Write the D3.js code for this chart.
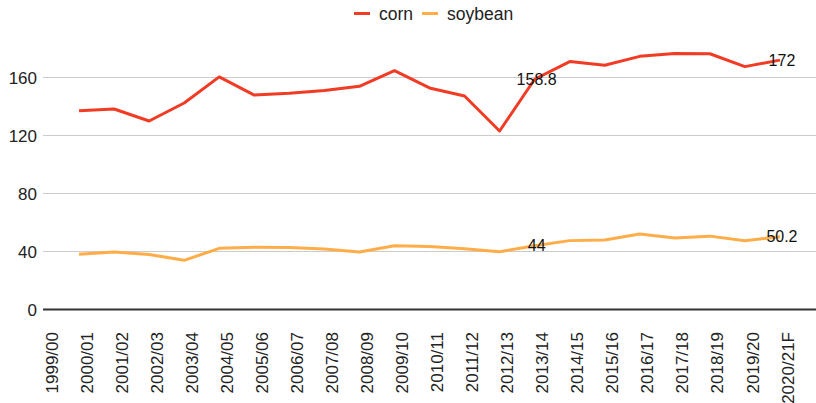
<!DOCTYPE html>
<html><head><meta charset="utf-8">
<script src="https://cdn.jsdelivr.net/npm/d3@7"></script>
<style>body{margin:0;background:#fff}svg{display:block;font-family:"Liberation Sans",Arial,sans-serif}</style>
</head><body><svg id="c" width="816" height="403"></svg>
<script>
const categories = ["1999/00","2000/01","2001/02","2002/03","2003/04","2004/05","2005/06","2006/07","2007/08","2008/09","2009/10","2010/11","2011/12","2012/13","2013/14","2014/15","2015/16","2016/17","2017/18","2018/19","2019/20","2020/21F"];
const corn = [null,137.1,138.3,130.0,142.4,160.4,147.9,149.1,151.1,153.9,164.7,152.8,147.2,123.1,158.8,171.0,168.4,174.6,176.6,176.4,167.5,172];
const soybean = [null,38.1,39.6,38.0,33.9,42.2,43.0,42.7,41.8,39.7,44.0,43.5,41.9,39.8,44,47.5,48.0,52.0,49.3,50.6,47.4,50.2];
const yTicks = [0,40,80,120,160];
const labelsShown = [{series:"corn", idx:14},{series:"corn", idx:21},{series:"soybean", idx:14},{series:"soybean", idx:21}];
const seriesNames = ["corn","soybean"];
const colors = {corn:"#f23b25", soybean:"#ffad48"};

const svg = d3.select("#c");
const x = d3.scaleLinear().domain([0, categories.length]).range([44, 815]);
const y = d3.scaleLinear().domain([0,160]).range([309.5, 77.5]);

// grid
svg.append("g").selectAll("line").data(yTicks.filter(d=>d!==0)).join("line")
  .attr("x1",43).attr("x2",816).attr("y1",d=>y(d)).attr("y2",d=>y(d))
  .attr("stroke","#cccccc").attr("stroke-width",1);
// y labels
svg.append("g").selectAll("text").data(yTicks).join("text")
  .attr("x",37).attr("y",d=>y(d)).attr("dy","0.36em").attr("text-anchor","end")
  .attr("font-size",17).attr("fill","#222").text(d=>d);
// baseline
svg.append("line").attr("x1",43).attr("x2",816).attr("y1",y(0)).attr("y2",y(0))
  .attr("stroke","#333").attr("stroke-width",2);
// x labels
svg.append("g").selectAll("text").data(categories).join("text")
  .attr("transform",(d,i)=>`translate(${x(i)+7.5},332) rotate(-90)`)
  .attr("dy","0.36em").attr("text-anchor","end").attr("font-size",17).attr("fill","#222").text(d=>d);

const data = {corn, soybean};
const line = d3.line().defined(d=>d!=null).x((d,i)=>x(i)).y(d=>y(d));
seriesNames.slice().reverse().forEach(s=>{
  svg.append("path").datum(data[s]).attr("d",line).attr("fill","none")
    .attr("stroke",colors[s]).attr("stroke-width",3).attr("stroke-linejoin","round");
});
// data labels
svg.append("g").selectAll("text").data(labelsShown).join("text")
  .attr("x",d=>x(d.idx)+2).attr("y",d=>y(data[d.series][d.idx])).attr("dy","0.36em")
  .attr("text-anchor","middle").attr("font-size",16).attr("fill","#111")
  .text(d=>data[d.series][d.idx]);

// legend
const leg = svg.append("g");
const legItems = [{name:"corn", lx:354, tx:379},{name:"soybean", lx:422, tx:447}];
legItems.forEach(it=>{
  leg.append("line").attr("x1",it.lx).attr("x2",it.lx+16).attr("y1",13.5).attr("y2",13.5)
    .attr("stroke",colors[it.name]).attr("stroke-width",3);
  leg.append("text").attr("x",it.tx).attr("y",14).attr("dy","0.36em").attr("font-size",17.5)
    .attr("fill","#222").text(it.name);
});
</script></body></html>
